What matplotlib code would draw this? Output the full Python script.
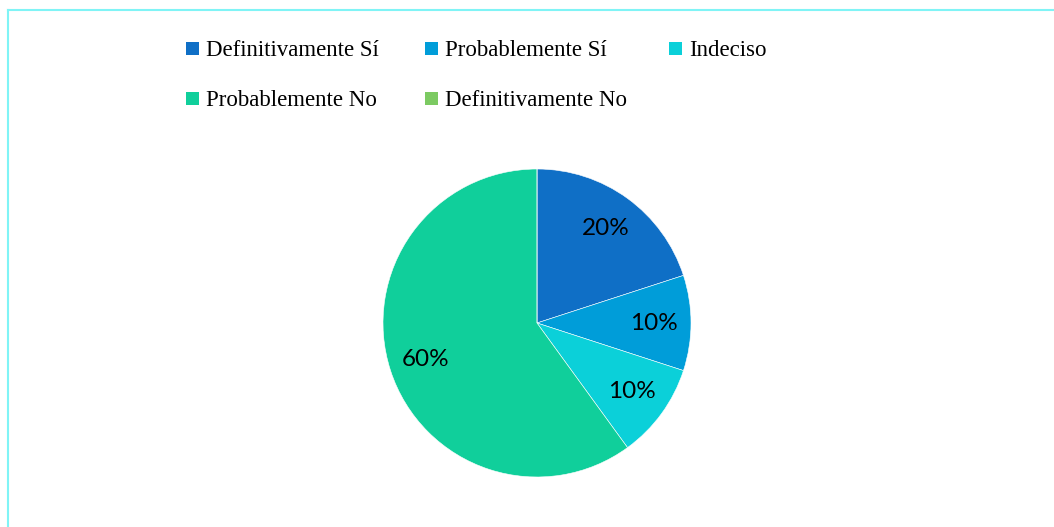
import matplotlib
matplotlib.use("Agg")
import matplotlib.pyplot as plt
from matplotlib.patches import Rectangle
from matplotlib.lines import Line2D

W, H = 1054, 527

categories = ["Definitivamente Sí", "Probablemente Sí", "Indeciso",
              "Probablemente No", "Definitivamente No"]
values     = [20, 10, 10, 60, 0]
colors     = ["#0F6FC6", "#009DD9", "#0BD0D9", "#10CF9B", "#7CCA62"]


def fx(px):
    return px / W


def fy(py):
    return 1 - py / H


def pct_label(p):
    return f"{p:.0f}%" if p > 0.5 else ""


fig = plt.figure(figsize=(W / 100, H / 100), dpi=100)

# pie: center (537, 323), radius 154 px
r = 154
ax = fig.add_axes([fx(537 - r), fy(323 + r), 2 * r / W, 2 * r / H])
ax.pie(values, colors=colors, startangle=90, counterclock=False,
       autopct=pct_label, pctdistance=0.76, radius=1.0,
       wedgeprops=dict(edgecolor="white", linewidth=0.4),
       textprops=dict(fontsize=17.5, family=["Lato", "DejaVu Sans"], color="black"))
ax.set_xlim(-1, 1)
ax.set_ylim(-1, 1)
ax.set_aspect("equal")
ax.axis("off")

# legend drawn by hand, row-wise like the original
col_x = [186, 425, 669]
row_y = [48.5, 98]
sq = 13
for i, (lab, c) in enumerate(zip(categories, colors)):
    x = col_x[i % 3]
    y = row_y[i // 3]
    fig.add_artist(Rectangle((fx(x), fy(y + sq / 2)), sq / W, sq / H,
                             transform=fig.transFigure, facecolor=c,
                             edgecolor="none"))
    fig.text(fx(x + 20), fy(y), lab, fontsize=16.5, family="Liberation Serif",
             va="center_baseline", ha="left")

# light cyan frame (chart border, cropped on right and bottom)
border = "#80F4F6"
fig.add_artist(Line2D([fx(8), fx(8)], [0, fy(10)], transform=fig.transFigure,
                      color=border, linewidth=1.5))
fig.add_artist(Line2D([fx(8), 1], [fy(10), fy(10)], transform=fig.transFigure,
                      color=border, linewidth=1.5))

fig.savefig("out.png", dpi=100)
